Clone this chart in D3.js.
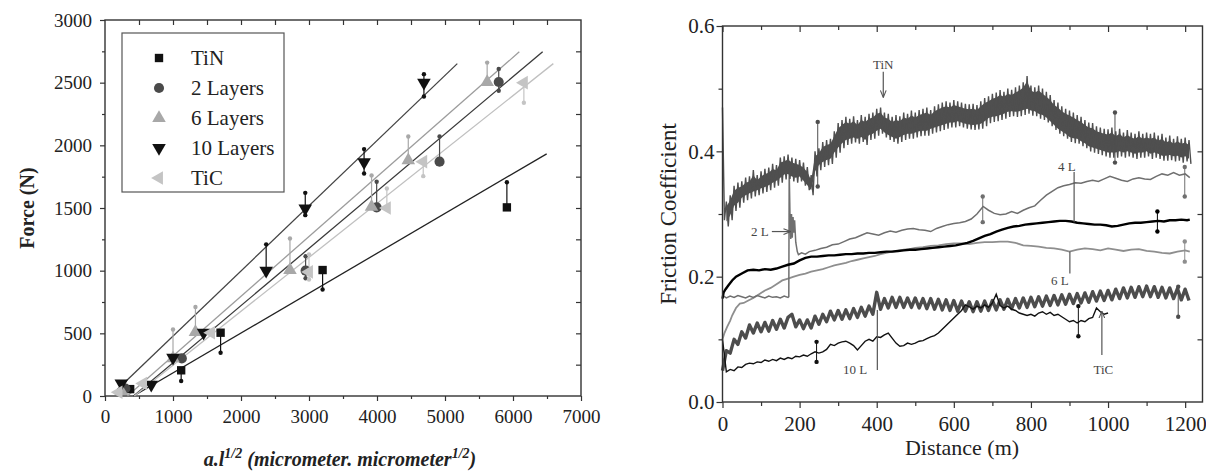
<!DOCTYPE html>
<html>
<head>
<meta charset="utf-8">
<script src="https://cdn.jsdelivr.net/npm/d3@7"></script>
<style>
  body { margin: 0; background: #fff; }
  svg text { font-family: "Liberation Serif", "Times New Roman", "DejaVu Serif", serif; }
</style>
</head>
<body>
<svg id="chart" width="1206" height="471" font-family="Liberation Serif, Times New Roman, DejaVu Serif, serif"></svg>
<script>
/************************ LEFT PANEL DATA ***********************************************/
var legendNames = ["TiN", "2 Layers", "6 Layers", "10 Layers", "TiC"];
// [a.l^1/2, force, whisker low, whisker high]
var tinPts = [[370,55,55,55],[1120,205,120,205],[1700,505,345,505],[3200,1005,850,1005],[5910,1505,1505,1705]];
var l2Pts  = [[300,60,60,60],[1130,300,300,300],[2950,1000,940,1115],[3995,1505,1505,1710],[4920,1870,1870,2070],[5790,2505,2435,2610]];
var l6Pts  = [[240,40,40,40],[1000,300,300,530],[1330,510,510,710],[2720,1005,1005,1257],[3920,1510,1510,1760],[4460,1880,1880,2070],[5620,2505,2505,2660]];
var l10Pts = [[240,100,100,100],[680,90,90,90],[1000,305,305,305],[1450,505,505,505],[2370,1000,1000,1210],[2945,1497,1443,1621],[3810,1866,1775,1970],[4690,2500,2390,2568]];
var ticPts = [[200,30,30,30],[560,100,100,100],[1560,505,505,505],[3000,990,930,1130],[4145,1500,1500,1656],[4680,1870,1754,1870],[6160,2500,2340,2500]];
// linear fits: [slope, intercept, x from, x to]
var fitTiN = [0.318, -133.6, 420, 6495];
var fit2L  = [0.4565, -191.7, 420, 6436];
var fit6L  = [0.4765, -157, 330, 6093];
var fit10L = [0.52, -42, 180, 5181];
var fitTiC = [0.4303, -185, 430, 6593];

/************************ RIGHT PANEL DATA **********************************************/
var dist10 = d3.range(0, 1220, 10); // sampling grid (m)
var tinHi = [
  0.47,0.32,0.33,0.345,0.35,0.352,0.358,0.36,0.37,0.362,
  0.368,0.372,0.374,0.38,0.378,0.39,0.392,0.395,0.39,0.388,
  0.386,0.382,0.375,0.362,0.40,0.405,0.415,0.418,0.42,0.432,
  0.445,0.45,0.455,0.452,0.456,0.45,0.458,0.455,0.46,0.462,
  0.468,0.47,0.462,0.46,0.455,0.458,0.456,0.462,0.46,0.465,
  0.462,0.466,0.468,0.47,0.466,0.472,0.475,0.478,0.48,0.478,
  0.482,0.48,0.478,0.476,0.475,0.476,0.474,0.48,0.485,0.488,
  0.492,0.494,0.498,0.495,0.5,0.498,0.502,0.505,0.51,0.52,
  0.505,0.502,0.505,0.5,0.495,0.49,0.482,0.478,0.472,0.468,
  0.465,0.462,0.458,0.455,0.45,0.446,0.445,0.44,0.438,0.436,
  0.435,0.438,0.432,0.436,0.43,0.434,0.43,0.428,0.432,0.428,
  0.43,0.428,0.43,0.425,0.428,0.422,0.425,0.42,0.424,0.42,
  0.422,0.418];
var tinLo = [
  0.29,0.28,0.29,0.305,0.31,0.318,0.322,0.325,0.328,0.33,
  0.333,0.335,0.338,0.342,0.345,0.35,0.355,0.356,0.352,0.35,
  0.352,0.345,0.338,0.33,0.36,0.37,0.375,0.378,0.38,0.39,
  0.398,0.405,0.41,0.412,0.414,0.412,0.415,0.41,0.418,0.42,
  0.425,0.428,0.422,0.418,0.415,0.412,0.415,0.418,0.42,0.42,
  0.422,0.424,0.425,0.425,0.428,0.43,0.432,0.434,0.436,0.438,
  0.438,0.44,0.438,0.436,0.435,0.434,0.435,0.436,0.44,0.445,
  0.447,0.448,0.45,0.452,0.455,0.456,0.455,0.456,0.458,0.46,
  0.457,0.456,0.452,0.45,0.446,0.44,0.434,0.428,0.424,0.42,
  0.415,0.413,0.412,0.408,0.405,0.4,0.398,0.396,0.394,0.392,
  0.39,0.39,0.39,0.392,0.39,0.392,0.39,0.388,0.39,0.39,
  0.392,0.388,0.39,0.388,0.385,0.385,0.386,0.384,0.385,0.382,
  0.384,0.38];
var tenL = [
  0.05,0.082,0.078,0.1,0.092,0.112,0.102,0.123,0.11,0.126,
  0.112,0.127,0.113,0.13,0.116,0.132,0.118,0.135,0.14,0.12,
  0.131,0.117,0.131,0.118,0.137,0.124,0.14,0.128,0.145,0.131,
  0.146,0.132,0.147,0.133,0.149,0.135,0.151,0.137,0.153,0.14,
  0.175,0.148,0.165,0.15,0.167,0.151,0.167,0.151,0.166,0.151,
  0.166,0.15,0.165,0.149,0.165,0.148,0.164,0.147,0.163,0.146,
  0.162,0.145,0.161,0.145,0.16,0.144,0.16,0.145,0.161,0.146,
  0.162,0.147,0.163,0.148,0.164,0.149,0.165,0.15,0.166,0.151,
  0.167,0.152,0.168,0.153,0.169,0.154,0.17,0.155,0.171,0.156,
  0.172,0.157,0.173,0.158,0.174,0.159,0.176,0.161,0.177,0.162,
  0.178,0.163,0.18,0.165,0.182,0.166,0.183,0.167,0.184,0.168,
  0.185,0.168,0.184,0.167,0.183,0.166,0.182,0.165,0.181,0.163,
  0.18,0.162];
var ticVals = [
  0.1,0.048,0.052,0.05,0.056,0.055,0.06,0.062,0.061,0.064,
  0.063,0.067,0.065,0.068,0.066,0.07,0.068,0.071,0.069,0.073,
  0.072,0.075,0.073,0.077,0.08,0.078,0.08,0.084,0.092,0.09,
  0.094,0.096,0.097,0.094,0.09,0.083,0.09,0.097,0.1,0.097,
  0.104,0.103,0.107,0.11,0.102,0.094,0.089,0.09,0.094,0.092,
  0.094,0.097,0.098,0.101,0.104,0.106,0.11,0.116,0.122,0.128,
  0.134,0.14,0.146,0.155,0.152,0.148,0.153,0.15,0.155,0.151,
  0.158,0.172,0.154,0.15,0.153,0.148,0.146,0.142,0.14,0.138,
  0.14,0.137,0.142,0.144,0.14,0.143,0.138,0.14,0.136,0.132,
  0.128,0.13,0.126,0.13,0.128,0.133,0.135,0.15,0.144,0.14,
  0.142];
// [distance, friction]
var twoL = [[0,0.17],[10,0.166],[20,0.169],[30,0.167],[40,0.17],[50,0.168],[60,0.166],[70,0.169],[80,0.167],[90,0.17],
  [100,0.168],[110,0.166],[120,0.169],[130,0.167],[140,0.168],[150,0.166],[160,0.169],[170,0.167],[172,0.168],[173,0.37],
  [175,0.3],[177,0.26],[179,0.3],[181,0.262],[183,0.295],[185,0.27],[187,0.29],[190,0.255],[194,0.24],[197,0.235],
  [205,0.238],[215,0.236],[225,0.24],[240,0.242],[255,0.245],[270,0.247],[285,0.251],[300,0.252],[315,0.256],[330,0.26],
  [345,0.262],[360,0.266],[375,0.27],[390,0.268],[405,0.266],[420,0.27],[435,0.273],[450,0.271],[465,0.274],[480,0.276],
  [495,0.277],[510,0.275],[525,0.274],[540,0.272],[555,0.277],[570,0.28],[585,0.283],[600,0.285],[615,0.286],[630,0.288],
  [645,0.292],[660,0.3],[676,0.312],[690,0.306],[705,0.301],[720,0.299],[735,0.3],[750,0.304],[765,0.301],[780,0.306],
  [795,0.31],[810,0.313],[825,0.322],[840,0.33],[855,0.336],[870,0.342],[885,0.345],[900,0.347],[915,0.35],[930,0.349],
  [945,0.352],[960,0.354],[975,0.352],[990,0.356],[1005,0.36],[1020,0.357],[1035,0.354],[1050,0.352],[1065,0.356],[1080,0.358],
  [1095,0.356],[1110,0.355],[1125,0.36],[1140,0.364],[1155,0.362],[1170,0.366],[1185,0.362],[1200,0.364],[1212,0.358]];
var sixL = [[0,0.10],[5,0.11],[12,0.12],[20,0.13],[25,0.138],[35,0.15],[45,0.157],[55,0.158],[67,0.162],[80,0.166],
  [95,0.172],[110,0.178],[125,0.182],[140,0.188],[155,0.194],[170,0.197],[185,0.2],[200,0.203],[215,0.205],[230,0.208],
  [245,0.21],[260,0.212],[275,0.215],[290,0.218],[305,0.22],[320,0.222],[335,0.225],[350,0.227],[365,0.229],[380,0.231],
  [395,0.233],[410,0.236],[425,0.238],[440,0.24],[455,0.241],[470,0.243],[485,0.244],[500,0.246],[520,0.247],[540,0.249],
  [560,0.25],[580,0.252],[600,0.253],[620,0.253],[640,0.252],[660,0.254],[680,0.255],[700,0.255],[720,0.256],[740,0.256],
  [760,0.254],[780,0.25],[800,0.249],[820,0.248],[840,0.246],[860,0.245],[880,0.243],[900,0.24],[920,0.243],[940,0.245],
  [960,0.244],[980,0.242],[1000,0.245],[1020,0.243],[1040,0.241],[1060,0.243],[1080,0.244],[1100,0.241],[1120,0.24],[1140,0.238],
  [1160,0.237],[1180,0.24],[1200,0.242],[1212,0.24]];
var fourL = [[0,0.165],[3,0.175],[8,0.18],[15,0.186],[25,0.194],[35,0.2],[50,0.205],[65,0.21],[80,0.211],[95,0.21],
  [110,0.212],[125,0.211],[140,0.213],[155,0.216],[170,0.219],[185,0.221],[200,0.226],[215,0.23],[230,0.232],[245,0.232],
  [260,0.233],[275,0.234],[290,0.234],[305,0.235],[320,0.236],[335,0.236],[350,0.237],[365,0.237],[380,0.238],[395,0.238],
  [410,0.239],[425,0.24],[440,0.24],[455,0.241],[470,0.242],[485,0.243],[500,0.243],[515,0.244],[530,0.245],[545,0.246],
  [560,0.247],[575,0.248],[590,0.249],[605,0.25],[620,0.252],[635,0.254],[650,0.257],[665,0.261],[680,0.265],[695,0.268],
  [710,0.272],[725,0.275],[740,0.278],[755,0.28],[770,0.281],[785,0.283],[800,0.284],[815,0.285],[830,0.286],[845,0.287],
  [860,0.288],[875,0.289],[890,0.289],[905,0.288],[920,0.286],[935,0.285],[950,0.284],[965,0.283],[980,0.283],[995,0.282],
  [1010,0.28],[1025,0.281],[1040,0.283],[1055,0.285],[1070,0.286],[1085,0.286],[1100,0.287],[1115,0.288],[1130,0.289],[1145,0.288],
  [1160,0.29],[1175,0.29],[1190,0.291],[1205,0.29],[1212,0.291]];
// [series, distance, low, high]
var rightErr = [["tin",247,0.344,0.447],["tin",1018,0.382,0.462],["twoL",675,0.287,0.328],["twoL",1199,0.328,0.375],
  ["fourL",1128,0.272,0.304],["sixL",1199,0.224,0.256],["tenL",1182,0.136,0.184],["tic",923,0.105,0.153],["tic",244,0.064,0.096]];

/************************ DRAWING *******************************************************/
var SERIF = "Liberation Serif, Times New Roman, DejaVu Serif, serif";
var svg = d3.select("#chart");
var frameColor = "#333";

function styleAxis(g, fontSize) {
  g.attr("font-family", SERIF);
  g.select(".domain").remove();
  g.selectAll("line").attr("stroke", frameColor).attr("stroke-width", 1.2);
  g.selectAll("text").attr("font-size", fontSize).attr("fill", "#222").attr("font-family", SERIF);
}
function txt(g) { return g.append("text").attr("font-family", SERIF); }

/* ---------- left panel ---------- */
var xL = d3.scaleLinear().domain([0, 7000]).range([105, 581]);
var yL = d3.scaleLinear().domain([0, 3000]).range([396, 20]);
var left = svg.append("g");

left.append("g").attr("transform", "translate(0,396)")
  .call(d3.axisBottom(xL).tickValues(d3.range(0, 7001, 1000)).tickSize(5).tickPadding(9).tickFormat(d3.format("d")))
  .call(styleAxis, 19);
left.append("g").attr("transform", "translate(0,396)")
  .call(d3.axisBottom(xL).tickValues(d3.range(500, 7000, 1000)).tickSize(3).tickFormat(""))
  .call(styleAxis, 19);
left.append("g").attr("transform", "translate(0,20)")
  .call(d3.axisTop(xL).tickValues(d3.range(500, 7000, 500)).tickSize(-5).tickFormat(""))
  .call(styleAxis, 19);
left.append("g").attr("transform", "translate(105,0)")
  .call(d3.axisLeft(yL).tickValues(d3.range(0, 3001, 500)).tickSize(5).tickPadding(8).tickFormat(d3.format("d")))
  .call(styleAxis, 19);
left.append("g").attr("transform", "translate(105,0)")
  .call(d3.axisLeft(yL).tickValues(d3.range(250, 3000, 500)).tickSize(3).tickFormat(""))
  .call(styleAxis, 19);
left.append("g").attr("transform", "translate(581,0)")
  .call(d3.axisRight(yL).tickValues(d3.range(250, 3000, 250)).tickSize(-5).tickFormat(""))
  .call(styleAxis, 19);
left.append("rect").attr("x", 105).attr("y", 20).attr("width", 476).attr("height", 376)
  .attr("fill", "none").attr("stroke", frameColor).attr("stroke-width", 1.4);

var leftSeries = [
  {pts: tinPts, fit: fitTiN, sym: d3.symbolSquare, size: 70, rot: 0, mark: "#111", line: "#222"},
  {pts: l2Pts, fit: fit2L, sym: d3.symbolCircle, size: 80, rot: 0, mark: "#4a4a4a", line: "#3a3a3a"},
  {pts: l6Pts, fit: fit6L, sym: d3.symbolTriangle, size: 80, rot: 0, mark: "#a8a8a8", line: "#9c9c9c"},
  {pts: l10Pts, fit: fit10L, sym: d3.symbolTriangle, size: 80, rot: 180, mark: "#111", line: "#444"},
  {pts: ticPts, fit: fitTiC, sym: d3.symbolTriangle, size: 80, rot: -90, mark: "#c4c4c4", line: "#c0c0c0"}
];

// fit lines
leftSeries.forEach(function(s) {
  var f = s.fit;
  left.append("line")
    .attr("x1", xL(f[2])).attr("y1", yL(f[0] * f[2] + f[1]))
    .attr("x2", xL(f[3])).attr("y2", yL(f[0] * f[3] + f[1]))
    .attr("stroke", s.line).attr("stroke-width", 1.3);
});
// whiskers
leftSeries.forEach(function(s) {
  s.pts.filter(function(p) { return p[2] !== p[3]; }).forEach(function(p) {
    left.append("line").attr("x1", xL(p[0])).attr("x2", xL(p[0]))
      .attr("y1", yL(p[2])).attr("y2", yL(p[3]))
      .attr("stroke", s.mark).attr("stroke-width", 1.2);
    [p[2], p[3]].forEach(function(v) {
      if (v !== p[1]) left.append("circle").attr("cx", xL(p[0])).attr("cy", yL(v)).attr("r", 2.2).attr("fill", s.mark);
    });
  });
});
// markers
leftSeries.forEach(function(s) {
  left.selectAll(null).data(s.pts).enter().append("path")
    .attr("d", d3.symbol(s.sym, s.size))
    .attr("transform", function(p) { return "translate(" + xL(p[0]) + "," + yL(p[1]) + ")rotate(" + s.rot + ")"; })
    .attr("fill", s.mark);
});

// legend
var lg = left.append("g");
lg.append("rect").attr("x", 122).attr("y", 33).attr("width", 162).attr("height", 159)
  .attr("fill", "#fff").attr("stroke", "#555").attr("stroke-width", 1.2);
legendNames.forEach(function(name, i) {
  var s = leftSeries[i], yy = 58 + i * 30;
  lg.append("path").attr("d", d3.symbol(s.sym, s.size)())
    .attr("transform", "translate(159," + yy + ")rotate(" + s.rot + ")").attr("fill", s.mark);
  txt(lg).attr("x", 191).attr("y", yy + 7).attr("font-size", 21).attr("fill", "#222").text(name);
});

// axis titles
txt(left).attr("transform", "translate(34,208)rotate(-90)").attr("text-anchor", "middle")
  .attr("font-size", 20).attr("font-weight", "bold").attr("fill", "#222").text("Force (N)");
var xt = txt(left).attr("x", 340).attr("y", 466).attr("text-anchor", "middle")
  .attr("font-size", 20).attr("font-weight", "bold").attr("font-style", "italic").attr("fill", "#222");
xt.append("tspan").text("a.l");
xt.append("tspan").attr("dy", -8).attr("font-size", 14).text("1/2");
xt.append("tspan").attr("dy", 8).text(" (micrometer. micrometer");
xt.append("tspan").attr("dy", -8).attr("font-size", 14).text("1/2");
xt.append("tspan").attr("dy", 8).text(")");

/* ---------- right panel ---------- */
var xR = d3.scaleLinear().domain([0, 1245]).range([722.5, 1202.5]);
var yR = d3.scaleLinear().domain([0, 0.6]).range([402, 26]);
var right = svg.append("g");

right.append("g").attr("transform", "translate(0,402)")
  .call(d3.axisBottom(xR).tickValues(d3.range(0, 1201, 200)).tickSize(6).tickPadding(8).tickFormat(d3.format("d")))
  .call(styleAxis, 21);
right.append("g").attr("transform", "translate(0,402)")
  .call(d3.axisBottom(xR).tickValues(d3.range(100, 1200, 200)).tickSize(4).tickFormat(""))
  .call(styleAxis, 21);
right.append("g").attr("transform", "translate(0,26)")
  .call(d3.axisTop(xR).tickValues(d3.range(0, 1201, 200)).tickSize(-6).tickFormat(""))
  .call(styleAxis, 21);
right.append("g").attr("transform", "translate(0,26)")
  .call(d3.axisTop(xR).tickValues(d3.range(100, 1200, 200)).tickSize(-4).tickFormat(""))
  .call(styleAxis, 21);
right.append("g").attr("transform", "translate(722.5,0)")
  .call(d3.axisLeft(yR).tickValues([0, 0.2, 0.4, 0.6]).tickSize(6).tickPadding(2).tickFormat(d3.format(".1f")))
  .call(styleAxis, 21);
right.append("g").attr("transform", "translate(722.5,0)")
  .call(d3.axisLeft(yR).tickValues([0.1, 0.3, 0.5]).tickSize(4).tickFormat(""))
  .call(styleAxis, 21);
right.append("g").attr("transform", "translate(1202.5,0)")
  .call(d3.axisRight(yR).tickValues([0.1, 0.2, 0.3, 0.4, 0.5]).tickSize(-5).tickFormat(""))
  .call(styleAxis, 21);

var line = d3.line().x(function(p) { return xR(p[0]); }).y(function(p) { return yR(p[1]); });
var colors = {tin: "#4f4f4f", twoL: "#6f6f6f", sixL: "#8e8e8e", fourL: "#000", tenL: "#4d4d4d", tic: "#111"};

// TiN band: envelope area plus a zigzag between upper and lower values
var tinPath = [];
dist10.forEach(function(d, i) { tinPath.push([d, tinHi[i]]); tinPath.push([d + 5, tinLo[i]]); });
var tinArea = d3.area()
  .x(function(d) { return xR(d); })
  .y0(function(d) { return yR(tinLo[dist10.indexOf(d)] + 0.008); })
  .y1(function(d) { return yR(tinHi[dist10.indexOf(d)] - 0.008); });
var tenPath = dist10.map(function(d, i) { return [d, tenL[i]]; });
var ticPath = ticVals.map(function(v, i) { return [dist10[i], v]; });

right.append("path").attr("d", line(sixL)).attr("fill", "none").attr("stroke", colors.sixL).attr("stroke-width", 1.8);
right.append("path").attr("d", line(twoL)).attr("fill", "none").attr("stroke", colors.twoL).attr("stroke-width", 1.5);
right.append("path").attr("d", line(fourL)).attr("fill", "none").attr("stroke", colors.fourL).attr("stroke-width", 2.4);
right.append("path").attr("d", line(tenPath)).attr("fill", "none").attr("stroke", colors.tenL)
  .attr("stroke-width", 3.4).attr("stroke-linejoin", "round");
right.append("path").attr("d", line(ticPath)).attr("fill", "none").attr("stroke", colors.tic).attr("stroke-width", 1.4);
right.append("path").attr("d", tinArea(dist10.slice(1))).attr("fill", colors.tin);
right.append("path").attr("d", line(tinPath)).attr("fill", "none").attr("stroke", colors.tin).attr("stroke-width", 1.4);

rightErr.forEach(function(e) {
  right.append("line").attr("x1", xR(e[1])).attr("x2", xR(e[1])).attr("y1", yR(e[2])).attr("y2", yR(e[3]))
    .attr("stroke", colors[e[0]]).attr("stroke-width", 1);
  [e[2], e[3]].forEach(function(v) {
    right.append("circle").attr("cx", xR(e[1])).attr("cy", yR(v)).attr("r", 2.2).attr("fill", colors[e[0]]);
  });
});

// labels pointing at the curves
var defs = svg.append("defs");
defs.append("marker").attr("id", "arr").attr("viewBox", "0 0 10 10").attr("refX", 9).attr("refY", 5)
  .attr("markerWidth", 6).attr("markerHeight", 6).attr("orient", "auto")
  .append("path").attr("d", "M0,1L10,5L0,9").attr("fill", "none").attr("stroke", "#555").attr("stroke-width", 1.5);

var notes = [
  {t: "TiN", x: 417, y: 0.531, from: [417, 0.527], to: [417, 0.487], arrow: true},
  {t: "2 L", x: 97, y: 0.265, from: [128, 0.272], to: [175, 0.272], arrow: true},
  {t: "4 L", x: 893, y: 0.369, from: [912, 0.367], to: [912, 0.287], arrow: false},
  {t: "6 L", x: 875, y: 0.1875, from: [901, 0.205], to: [901, 0.24], arrow: false},
  {t: "10 L", x: 344, y: 0.044, from: [401.6, 0.051], to: [401.6, 0.147], arrow: false},
  {t: "TiC", x: 988, y: 0.044, from: [984, 0.075], to: [984, 0.144], arrow: true}
];
notes.forEach(function(n) {
  txt(right).attr("x", xR(n.x)).attr("y", yR(n.y)).attr("text-anchor", "middle")
    .attr("font-size", 13).attr("fill", "#444").text(n.t);
  var ln = right.append("line").attr("x1", xR(n.from[0])).attr("y1", yR(n.from[1]))
    .attr("x2", xR(n.to[0])).attr("y2", yR(n.to[1])).attr("stroke", "#555").attr("stroke-width", 1.2);
  if (n.arrow) ln.attr("marker-end", "url(#arr)");
});

right.append("rect").attr("x", 722.5).attr("y", 26).attr("width", 480).attr("height", 376)
  .attr("fill", "none").attr("stroke", frameColor).attr("stroke-width", 1.4);

txt(right).attr("transform", "translate(676,214)rotate(-90)").attr("text-anchor", "middle")
  .attr("font-size", 23).attr("fill", "#222").text("Friction Coefficient");
txt(right).attr("x", 962).attr("y", 455).attr("text-anchor", "middle")
  .attr("font-size", 22).attr("fill", "#222").text("Distance (m)");
</script>
</body>
</html>
